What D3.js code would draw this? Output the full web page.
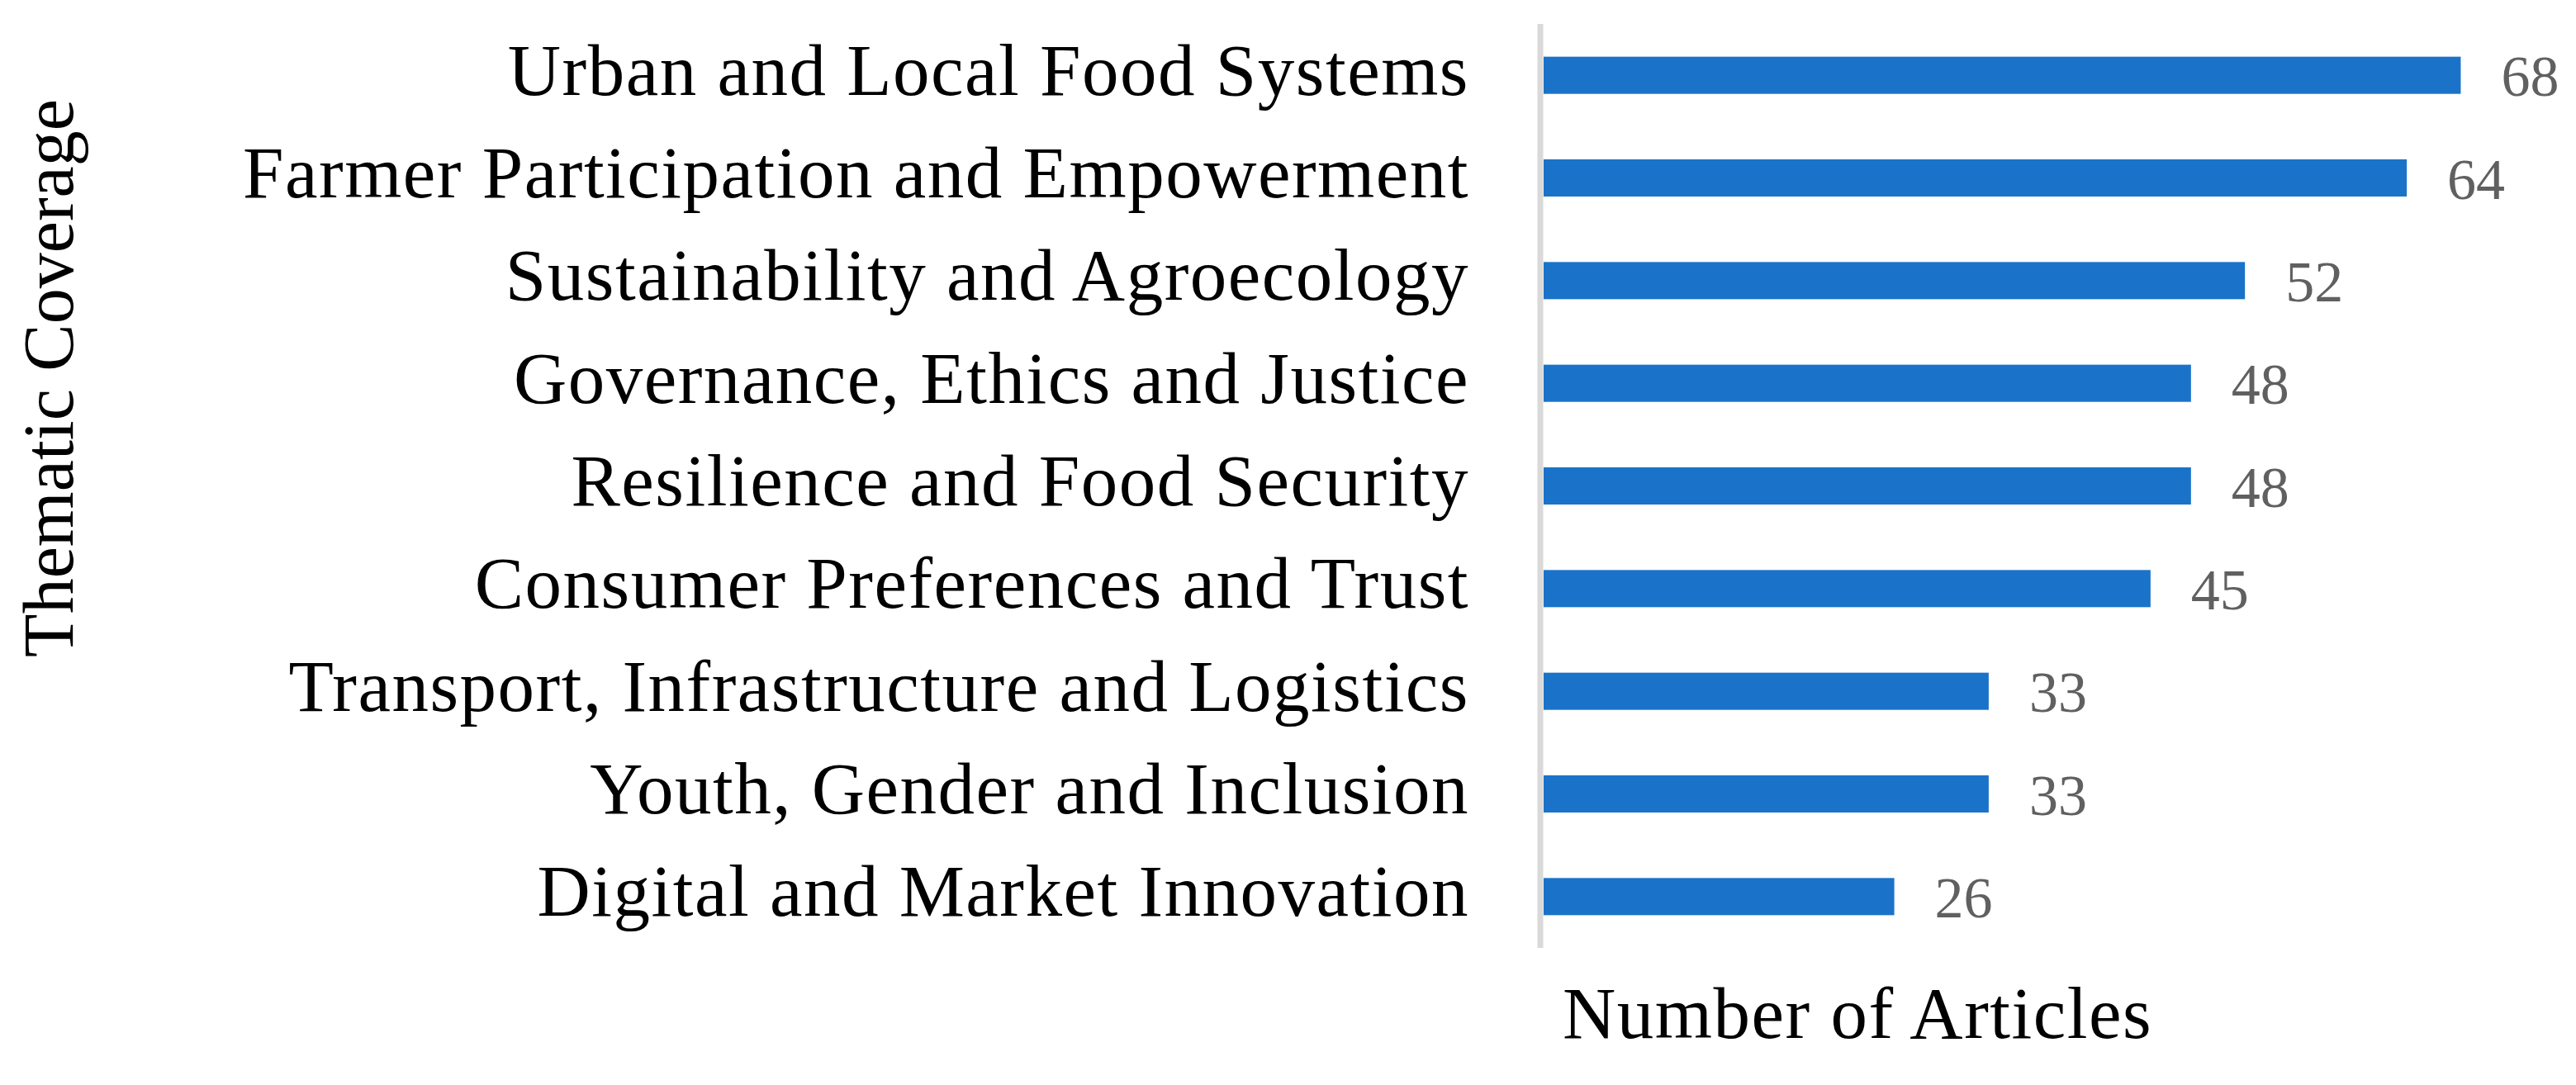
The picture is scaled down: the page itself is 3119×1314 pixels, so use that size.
<!DOCTYPE html>
<html>
<head>
<meta charset="utf-8">
<script src="https://cdn.jsdelivr.net/npm/d3@7/dist/d3.min.js"></script>
<style>
  html, body { margin: 0; padding: 0; background: #fff; }
  svg text { font-family: "Liberation Serif", "Times New Roman", serif; }
</style>
</head>
<body>
<div id="chart"></div>
<script>
var categories = [
  'Urban and Local Food Systems',
  'Farmer Participation and Empowerment',
  'Sustainability and Agroecology',
  'Governance, Ethics and Justice',
  'Resilience and Food Security',
  'Consumer Preferences and Trust',
  'Transport, Infrastructure and Logistics',
  'Youth, Gender and Inclusion',
  'Digital and Market Innovation'
];
var articleCounts = [68, 64, 52, 48, 48, 45, 33, 33, 26];

var width = 3119,
    height = 1314,
    axisX = 1865,
    barLeft = 1869,
    plotTop = 29,
    plotBottom = 1148,
    labelSize = 89,
    labelSpacing = 1.5,
    valueSize = 70;

var svg = d3.select('#chart')
  .append('svg')
  .attr('width', width)
  .attr('height', height);

var data = categories.map(function (c, i) {
  return { name: c, value: articleCounts[i] };
});

var x = d3.scaleLinear()
  .domain([0, 70])
  .range([barLeft, barLeft + 70 * 16.33]);

var y = d3.scaleBand()
  .domain(categories)
  .range([plotTop, plotBottom])
  .paddingInner(0.638)
  .paddingOuter(0.319);

// bars
svg.selectAll('rect.bar')
  .data(data).enter()
  .append('rect')
  .attr('class', 'bar')
  .attr('x', x(0))
  .attr('y', function (d) { return y(d.name); })
  .attr('width', function (d) { return x(d.value) - x(0); })
  .attr('height', y.bandwidth())
  .attr('fill', '#1a73c8');

// value labels
svg.selectAll('text.value')
  .data(data).enter()
  .append('text')
  .attr('class', 'value')
  .attr('x', function (d) { return x(d.value) + 49; })
  .attr('y', function (d) { return y(d.name) + y.bandwidth() / 2 + 25; })
  .attr('font-size', valueSize)
  .attr('fill', '#606060')
  .text(function (d) { return d.value; });

// category axis, drawn with d3.axisLeft then restyled
var yAxis = svg.append('g')
  .attr('transform', 'translate(' + axisX + ',0)')
  .call(d3.axisLeft(y).tickSize(0).tickPadding(86));

yAxis.select('.domain').remove();
yAxis.selectAll('text')
  .attr('font-family', '"Liberation Serif", "Times New Roman", serif')
  .attr('font-size', labelSize)
  .attr('letter-spacing', labelSpacing)
  .attr('fill', '#000')
  .attr('dy', null)
  .attr('y', 23.5);

// vertical axis line
svg.append('line')
  .attr('x1', axisX).attr('x2', axisX)
  .attr('y1', plotTop).attr('y2', plotBottom)
  .attr('stroke', '#d9d9d9')
  .attr('stroke-width', 7);

// axis titles
svg.append('text')
  .attr('x', 1892)
  .attr('y', 1257)
  .attr('font-size', labelSize)
  .attr('letter-spacing', labelSpacing)
  .attr('fill', '#000')
  .text('Number of Articles');

svg.append('text')
  .attr('transform', 'translate(88,458) rotate(-90)')
  .attr('text-anchor', 'middle')
  .attr('font-size', 86)
  .attr('fill', '#000')
  .text('Thematic Coverage');
</script>
</body>
</html>
